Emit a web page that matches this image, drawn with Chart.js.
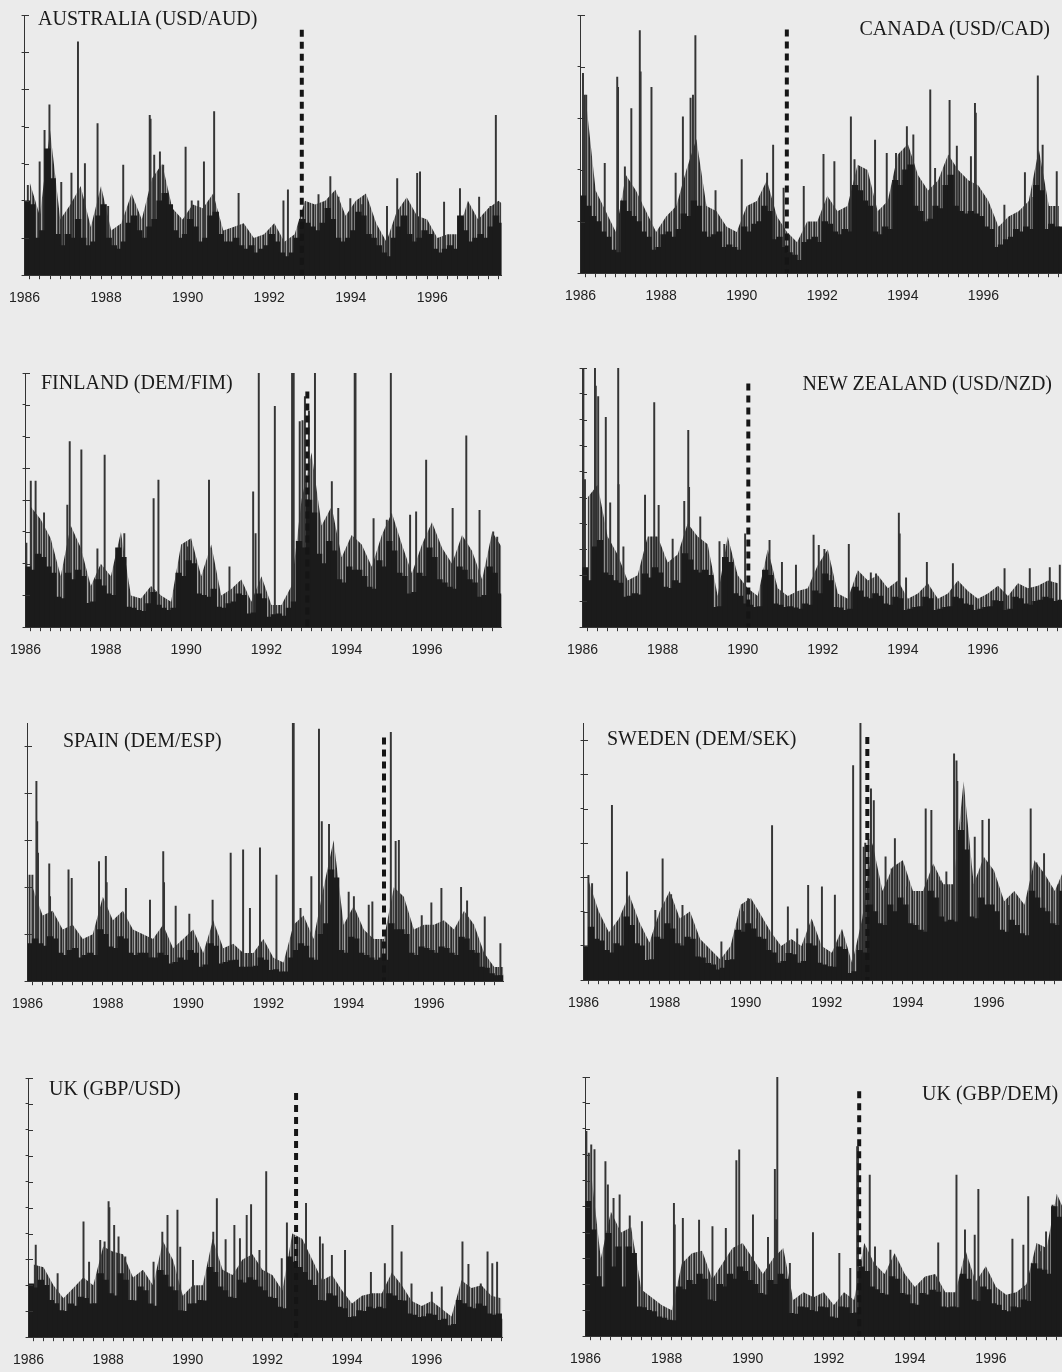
<!DOCTYPE html>
<html>
<head>
<meta charset="utf-8">
<script src="https://cdn.jsdelivr.net/npm/chart.js@4.4.1/dist/chart.umd.min.js"></script>
<style>
  html, body { margin: 0; padding: 0; background: #ebebeb; }
  body { width: 1062px; height: 1372px; position: relative; overflow: hidden; }
  canvas { position: absolute; }
  .ttl { position: absolute; font-family: "Liberation Serif", "Times New Roman", serif; font-size: 20px; line-height: 20px; color: #1a1a1a; white-space: nowrap; }
</style>
</head>
<body>
<script>
var yearLabels = [1986, 1988, 1990, 1992, 1994, 1996];

// body: level of the dense daily bars, one value per 1/8 year from 1986.0
// fringe: height reached by the crowd of thinner bars, one value per quarter
// spikes: [year, value] ; break: [year of regime change, height of dashed marker]
var ausBody = [
  2.0, 1.9, 1.0, 1.2, 3.4, 2.6, 1.1, 0.8,
  1.1, 1.0, 1.5, 1.0, 0.8, 0.9, 1.6, 1.9,
  1.0, 0.8, 0.7, 0.9, 1.4, 1.6, 1.2, 1.0,
  1.3, 1.5, 2.0, 2.2, 1.9, 1.2, 1.0, 1.1,
  1.5, 1.3, 0.9, 1.0, 1.6, 1.7, 1.1, 0.9,
  0.9, 1.0, 0.8, 0.7, 0.8, 0.6, 0.7, 0.8,
  1.1, 0.9, 0.6, 0.5, 0.6, 1.0, 1.5, 1.4,
  1.3, 1.2, 1.4, 1.8, 1.5, 1.0, 0.9, 1.0,
  1.2, 1.7, 1.6, 1.1, 1.0, 0.8, 0.6, 0.5,
  1.0, 1.3, 1.6, 1.1, 0.9, 1.0, 1.2, 1.1,
  0.7, 0.6, 0.7, 0.8, 0.7, 1.6, 1.2, 0.9,
  1.0, 1.1, 1.0, 1.3, 1.6, 1.4, 1.2, 1.1
];
var ausFringe = [2.5, 1.6, 3.9, 1.5, 1.9, 2.4, 1.3, 2.4, 1.2, 1.4, 2.2, 1.5, 2.6, 3.0, 1.8, 1.5, 1.9, 1.8, 2.2, 1.2, 1.3, 1.4, 1.0, 1.1,
  1.4, 0.9, 1.1, 2.0, 1.9, 2.0, 2.3, 1.6, 2.0, 2.2, 1.4, 0.9, 1.7, 2.1, 1.6, 1.5, 1.0, 1.1, 1.1, 2.0, 1.5, 1.8, 2.0, 1.8];
var ausSpikes = [[1986.08,2.42],[1986.37,3.05],[1986.49,3.9],[1986.61,4.58],[1986.9,2.5],[1987.15,2.75],[1987.31,6.28],[1987.48,3.0],[1987.79,4.08],[1988.05,1.85],[1988.42,2.96],[1989.07,4.3],[1989.09,4.2],[1989.18,3.23],[1989.32,3.32],[1989.4,2.96],[1989.95,3.45],[1990.1,2.0],[1990.26,2.0],[1990.4,3.05],[1990.65,4.4],[1991.25,2.2],[1992.35,2.0],[1992.46,2.3],[1993.21,2.17],[1993.5,2.65],[1993.7,2.1],[1993.99,2.06],[1994.28,1.9],[1994.89,1.85],[1995.14,2.6],[1995.63,2.74],[1995.7,2.78],[1996.29,1.97],[1996.68,2.33],[1997.15,2.1],[1997.43,1.85],[1997.56,4.3]];
var ausBreak = [1992.8, 6.6];

var canBody = [
  1.5, 1.3, 1.1, 1.0, 0.8, 0.7, 0.45, 0.4,
  1.4, 1.2, 1.1, 1.0, 0.8, 0.7, 0.45, 0.5,
  0.75, 0.8, 0.7, 0.85, 1.15, 1.1, 1.4, 1.3,
  0.8, 0.7, 0.75, 0.8, 0.5, 0.55, 0.5, 0.45,
  0.9, 0.8, 0.95, 1.0, 1.3, 1.2, 0.65, 0.7,
  0.5, 0.4, 0.35, 0.25, 0.6, 0.65, 0.7, 0.6,
  1.0, 0.95, 0.8, 0.75, 0.85, 0.8, 1.7, 1.6,
  1.4, 1.3, 0.8, 0.75, 0.9, 0.85, 1.8, 1.7,
  2.0, 2.1, 1.3, 1.2, 1.0, 1.05, 1.3, 1.25,
  1.7, 1.9, 1.3, 1.2, 1.15, 1.2, 1.15, 1.1,
  0.9, 0.85, 0.5, 0.55, 0.65, 0.7, 0.85, 0.8,
  0.9, 0.85, 1.7, 1.6, 0.85, 0.95, 0.9, 0.9
];
var canFringe = [3.4, 1.6, 1.2, 0.8, 1.9, 1.6, 1.2, 0.8, 1.1, 1.3, 2.0, 2.6, 1.3, 1.2, 0.9, 0.8, 1.3, 1.4, 1.8, 1.1, 0.8, 0.6, 1.0, 1.0,
  1.5, 1.2, 1.3, 2.1, 2.0, 1.2, 1.4, 2.3, 2.5, 1.9, 1.6, 1.8, 2.3, 2.0, 1.8, 1.7, 1.4, 0.9, 1.1, 1.2, 1.4, 2.4, 1.3, 1.3];
var canSpikes = [[1986.06,3.87],[1986.1,3.45],[1986.14,3.45],[1986.6,2.13],[1986.91,3.8],[1986.93,3.6],[1987.1,2.06],[1987.26,3.19],[1987.47,4.7],[1987.49,3.9],[1987.76,3.6],[1988.36,1.94],[1988.54,3.03],[1988.73,3.39],[1988.79,3.45],[1988.85,4.6],[1989.35,1.6],[1990.0,2.2],[1990.63,1.94],[1990.78,2.48],[1991.04,1.65],[1991.54,1.68],[1992.03,2.3],[1992.3,2.16],[1992.71,3.03],[1992.8,2.2],[1993.31,2.58],[1993.6,2.32],[1993.83,2.32],[1994.1,2.84],[1994.26,2.68],[1994.68,3.55],[1994.8,2.03],[1995.16,3.35],[1995.34,2.46],[1995.69,2.26],[1995.79,3.29],[1995.81,3.1],[1996.52,1.32],[1997.03,1.95],[1997.24,1.47],[1997.35,3.82],[1997.47,2.48],[1997.82,1.97]];
var canBreak = [1991.12, 4.72];

var finBody = [
  1.9, 1.8, 2.3, 2.2, 1.9, 1.7, 0.95, 0.9,
  1.7, 1.5, 1.8, 1.6, 0.75, 0.8, 1.5, 1.3,
  1.05, 1.0, 2.5, 2.2, 0.63, 0.6, 0.53, 0.5,
  0.74, 1.1, 0.7, 0.6, 0.53, 0.6, 1.7, 1.6,
  2.1, 2.0, 1.05, 1.0, 0.95, 1.2, 0.63, 0.6,
  0.74, 0.8, 1.05, 1.0, 0.42, 0.45, 1.05, 0.9,
  0.32, 0.4, 0.42, 0.35, 0.6, 0.8, 2.7, 2.5,
  4.0, 3.6, 2.3, 2.0, 2.7, 2.4, 1.5, 1.4,
  1.9, 1.8, 1.8, 1.6, 1.26, 1.2, 2.1, 1.9,
  2.7, 2.4, 1.7, 1.6, 1.05, 1.1, 1.7, 1.6,
  2.5, 2.2, 1.5, 1.4, 1.26, 1.2, 1.9, 1.8,
  1.5, 1.4, 0.95, 1.0, 1.9, 1.7, 1.05, 1.0
];
var finFringe = [3.8, 3.4, 2.8, 1.6, 3.2, 2.5, 1.3, 2.0, 1.6, 3.0, 1.0, 0.9, 1.3, 1.0, 0.8, 2.6, 2.8, 1.6, 2.6, 1.0, 1.2, 1.5, 0.8, 1.6,
  0.7, 0.7, 1.3, 4.0, 5.5, 3.2, 3.8, 2.2, 2.9, 2.6, 1.9, 2.9, 3.6, 2.6, 1.7, 2.6, 3.3, 2.5, 2.0, 2.9, 2.4, 1.5, 3.0, 2.5];
var finSpikes = [[1986.02,2.65],[1986.13,4.6],[1986.25,4.6],[1986.46,3.6],[1987.04,3.84],[1987.1,5.84],[1987.39,5.58],[1987.79,2.47],[1987.97,5.42],[1988.46,2.95],[1989.19,4.05],[1989.31,4.63],[1990.04,2.53],[1990.57,4.63],[1991.08,1.9],[1991.67,4.26],[1991.73,2.95],[1991.81,8.1],[1992.21,6.95],[1992.64,8.1],[1992.66,8.1],[1992.68,8.1],[1992.83,6.47],[1992.9,6.5],[1992.96,7.26],[1993.06,6.8],[1993.21,8.1],[1993.63,4.58],[1993.79,3.74],[1994.2,8.1],[1994.22,8.1],[1994.67,3.42],[1995.0,3.37],[1995.1,8.1],[1995.58,3.53],[1995.73,3.63],[1995.98,5.26],[1996.64,3.74],[1996.98,6.02],[1997.31,3.68],[1997.65,3.0],[1997.75,2.84]];
var finBreak = [1993.02, 7.42];

var nzBody = [
  2.3, 1.8, 3.1, 3.35, 2.1, 2.0, 1.8, 1.7,
  1.16, 1.2, 1.3, 1.25, 2.06, 1.9, 2.3, 2.1,
  1.55, 1.5, 1.8, 1.7, 2.84, 2.6, 2.2, 2.1,
  2.2, 2.0, 0.77, 0.8, 2.7, 2.5, 1.3, 1.2,
  0.9, 0.85, 0.77, 0.8, 2.2, 2.0, 0.9, 0.85,
  0.77, 0.8, 0.75, 0.7, 0.9, 0.85, 1.4, 1.3,
  2.06, 1.8, 0.77, 0.75, 0.65, 0.7, 1.55, 1.4,
  1.16, 1.1, 1.3, 1.2, 0.9, 0.85, 1.16, 1.1,
  0.65, 0.7, 0.77, 0.8, 1.16, 1.1, 0.65, 0.7,
  0.77, 0.8, 1.16, 1.1, 0.9, 0.85, 0.65, 0.7,
  0.77, 0.8, 1.03, 1.0, 0.65, 0.7, 1.16, 1.1,
  0.9, 0.85, 1.0, 1.05, 1.16, 1.1, 1.0, 1.05
];
var nzFringe = [5.0, 5.5, 3.5, 2.8, 1.8, 2.0, 3.5, 3.5, 2.5, 2.8, 4.0, 3.5, 3.2, 1.2, 3.5, 2.0, 1.5, 1.2, 3.0, 1.5, 1.2, 1.4, 1.5, 2.4,
  3.0, 1.3, 1.1, 2.2, 1.8, 2.0, 1.5, 1.8, 1.1, 1.3, 1.7, 1.1, 1.3, 1.8, 1.4, 1.1, 1.3, 1.6, 1.2, 1.7, 1.5, 1.6, 1.8, 1.7];
var nzSpikes = [[1986.0,10],[1986.02,10],[1986.06,5.7],[1986.27,5.2],[1986.31,10],[1986.33,9.3],[1986.39,8.9],[1986.58,8.1],[1986.69,4.8],[1986.89,10],[1986.9,5.5],[1987.02,3.1],[1987.56,5.1],[1987.79,8.67],[1987.9,4.7],[1988.25,3.4],[1988.54,4.86],[1988.64,7.6],[1988.66,5.4],[1988.94,4.26],[1989.42,3.3],[1989.54,3.2],[1990.06,3.6],[1990.67,3.35],[1990.98,2.5],[1991.33,2.4],[1991.77,3.55],[1991.9,3.16],[1992.04,3.0],[1992.2,2.0],[1992.65,3.2],[1993.2,2.1],[1993.33,2.06],[1993.9,4.4],[1993.92,3.6],[1994.08,1.9],[1994.6,2.5],[1995.25,2.45],[1996.54,2.26],[1997.17,2.26],[1997.67,2.3],[1997.92,2.4]];
var nzBreak = [1990.14, 9.4];

var espBody = [
  0.8, 0.9, 0.8, 0.75, 0.95, 0.9, 0.6, 0.55,
  0.66, 0.7, 0.5, 0.55, 0.6, 0.55, 1.1, 1.0,
  0.73, 0.7, 0.95, 0.9, 0.6, 0.55, 0.6, 0.6,
  0.5, 0.5, 0.6, 0.55, 0.37, 0.4, 0.5, 0.45,
  0.66, 0.6, 0.3, 0.35, 0.8, 0.75, 0.37, 0.4,
  0.44, 0.45, 0.3, 0.3, 0.3, 0.32, 0.5, 0.45,
  0.23, 0.25, 0.2, 0.2, 0.5, 0.66, 0.8, 0.75,
  0.5, 0.45, 1.0, 1.23, 2.37, 2.2, 0.66, 0.6,
  0.94, 0.9, 0.6, 0.55, 0.5, 0.45, 0.5, 0.45,
  1.23, 1.1, 1.1, 1.0, 0.6, 0.55, 0.73, 0.7,
  0.66, 0.6, 0.73, 0.7, 0.6, 0.55, 0.94, 0.9,
  0.66, 0.6, 0.3, 0.28, 0.16, 0.12, 0.12, 0.15
];
var espFringe = [2.0, 1.4, 1.5, 1.1, 1.2, 0.9, 1.0, 1.8, 1.3, 1.5, 1.1, 1.0, 0.9, 1.2, 0.7, 0.9, 1.1, 0.6, 1.3, 0.7, 0.8, 0.6, 0.6, 0.9,
  0.5, 0.4, 1.2, 1.4, 0.9, 2.0, 3.0, 1.2, 1.6, 1.1, 0.9, 0.9, 2.0, 1.8, 1.1, 1.2, 1.2, 1.3, 1.1, 1.5, 1.2, 0.6, 0.3, 0.3];
var espSpikes = [[1986.05,2.26],[1986.12,2.26],[1986.22,4.26],[1986.24,3.4],[1986.26,2.73],[1986.54,2.5],[1986.56,1.8],[1987.02,2.37],[1987.1,2.19],[1987.78,2.55],[1987.95,2.66],[1987.97,2.1],[1988.45,1.98],[1989.05,1.73],[1989.38,2.76],[1989.4,2.1],[1989.69,1.6],[1990.03,1.43],[1990.61,1.73],[1991.06,2.73],[1991.37,2.8],[1991.54,1.55],[1991.79,2.84],[1992.2,2.26],[1992.61,5.6],[1992.63,5.6],[1992.8,1.55],[1993.07,2.23],[1993.26,5.37],[1993.33,3.4],[1993.51,3.34],[1994.0,1.9],[1994.13,1.8],[1994.5,1.62],[1994.59,1.69],[1995.05,5.3],[1995.17,2.98],[1995.25,3.0],[1995.82,1.4],[1996.06,1.67],[1996.31,1.98],[1996.8,2.0],[1996.95,1.71],[1997.39,1.37],[1997.78,0.8]];
var espBreak = [1994.88, 5.19];

var sweBody = [
  1.0, 1.55, 1.2, 1.15, 0.87, 0.8, 1.07, 1.0,
  1.85, 1.6, 1.07, 1.0, 0.58, 0.6, 1.26, 1.2,
  1.65, 1.5, 1.07, 1.0, 1.26, 1.2, 0.68, 0.65,
  0.49, 0.45, 0.3, 0.35, 0.58, 0.6, 1.46, 1.4,
  1.65, 1.5, 1.26, 1.2, 0.87, 0.8, 0.5, 0.55,
  0.78, 0.75, 0.5, 0.55, 1.07, 1.0, 0.5, 0.45,
  0.4, 0.38, 0.97, 0.9, 0.2, 0.25, 0.87, 0.8,
  2.2, 2.0, 1.65, 1.6, 2.2, 2.0, 2.4, 2.2,
  1.65, 1.6, 1.46, 1.4, 2.6, 2.4, 1.85, 1.7,
  1.75, 1.7, 4.37, 3.8, 1.85, 1.8, 2.4, 2.2,
  2.2, 2.0, 1.46, 1.4, 1.75, 1.6, 1.36, 1.3,
  2.6, 2.4, 2.1, 2.0, 1.65, 1.6, 2.6, 2.4
];
var sweFringe = [2.9, 2.0, 1.4, 1.8, 2.5, 1.7, 1.1, 2.0, 2.6, 1.8, 2.0, 1.2, 0.9, 0.6, 1.0, 2.2, 2.4, 1.9, 1.4, 1.0, 1.2, 1.0, 1.8, 1.0,
  0.8, 1.5, 0.5, 1.8, 4.0, 2.6, 3.3, 3.5, 2.6, 2.6, 3.4, 2.8, 2.8, 5.8, 2.8, 3.6, 3.2, 2.3, 2.6, 2.2, 3.5, 3.1, 2.6, 3.3];
var sweSpikes = [[1986.0,2.0],[1986.12,3.06],[1986.21,2.82],[1986.7,5.1],[1987.07,3.16],[1987.77,2.04],[1987.95,3.54],[1988.16,2.5],[1988.44,2.18],[1989.4,1.12],[1989.94,2.0],[1990.06,2.38],[1990.28,1.8],[1990.65,4.51],[1991.04,2.14],[1991.27,1.5],[1991.54,2.77],[1991.88,2.72],[1992.2,2.48],[1992.65,6.26],[1992.83,7.5],[1992.91,3.88],[1992.95,4.0],[1993.03,4.1],[1993.09,5.58],[1993.16,5.24],[1993.45,3.6],[1993.6,3.25],[1993.68,4.13],[1993.98,2.72],[1994.44,5.0],[1994.58,4.95],[1994.79,2.9],[1994.95,3.16],[1995.14,6.6],[1995.2,6.4],[1995.22,5.8],[1995.34,4.6],[1995.65,4.17],[1995.84,4.66],[1996.0,4.7],[1996.49,2.18],[1997.03,5.0],[1997.17,3.42],[1997.36,3.69],[1997.56,2.67],[1997.73,2.8]];
var sweBreak = [1993.0, 7.09];

var ukuBody = [
  2.06, 1.9, 2.2, 2.0, 1.42, 1.3, 1.03, 1.0,
  1.29, 1.2, 1.55, 1.5, 1.29, 1.3, 2.45, 2.2,
  1.68, 1.6, 2.45, 2.2, 1.42, 1.4, 1.94, 1.8,
  1.29, 1.2, 2.58, 2.4, 1.94, 1.8, 1.03, 1.0,
  1.29, 1.3, 1.42, 1.4, 2.7, 2.5, 1.94, 1.8,
  1.55, 1.5, 2.2, 2.1, 2.3, 2.2, 1.94, 1.8,
  1.55, 1.5, 1.16, 1.1, 3.1, 2.9, 2.7, 2.5,
  2.2, 2.0, 1.42, 1.4, 1.68, 1.6, 1.16, 1.1,
  0.77, 0.8, 1.03, 1.0, 1.16, 1.1, 1.16, 1.1,
  1.68, 1.6, 1.42, 1.4, 0.9, 0.85, 0.77, 0.8,
  0.9, 0.85, 0.65, 0.7, 0.45, 0.5, 1.42, 1.3,
  1.16, 1.1, 1.29, 1.2, 0.9, 0.85, 0.9, 0.7
];
var ukuFringe = [2.8, 2.7, 2.0, 1.5, 1.9, 2.3, 2.0, 3.5, 3.3, 3.2, 2.3, 2.6, 2.0, 3.7, 3.0, 1.6, 2.0, 2.0, 3.8, 2.6, 2.4, 3.0, 3.2, 2.6,
  2.4, 1.8, 4.0, 3.8, 3.0, 2.2, 2.4, 1.8, 1.3, 1.6, 1.7, 1.7, 2.5, 2.0, 1.4, 1.2, 1.4, 1.1, 0.8, 2.2, 1.9, 2.0, 1.6, 1.5];
var ukuSpikes = [[1986.18,3.55],[1986.73,2.45],[1987.38,4.45],[1987.52,2.9],[1987.8,3.74],[1987.91,3.68],[1988.01,5.23],[1988.03,5.0],[1988.15,4.32],[1988.26,3.87],[1988.43,3.1],[1989.14,2.9],[1989.36,4.06],[1989.49,4.7],[1989.74,4.9],[1989.81,3.48],[1990.13,2.97],[1990.64,4.06],[1990.73,5.35],[1990.95,3.77],[1991.17,4.32],[1991.31,3.8],[1991.48,4.7],[1991.59,5.12],[1991.8,3.35],[1991.97,6.39],[1992.36,3.03],[1992.49,4.41],[1992.97,5.16],[1993.32,3.87],[1993.39,3.6],[1993.62,3.16],[1993.95,3.35],[1994.6,2.5],[1994.95,2.84],[1995.14,4.32],[1995.37,3.29],[1995.62,2.06],[1996.13,1.74],[1996.38,1.94],[1996.9,3.68],[1997.05,2.81],[1997.36,2.06],[1997.53,3.29],[1997.65,2.84],[1997.77,2.9]];
var ukuBreak = [1992.72, 9.42];

var ukdBody = [
  5.2, 4.1, 2.3, 1.9, 3.97, 2.68, 3.45, 1.9,
  3.45, 3.2, 1.13, 1.1, 1.0, 0.95, 0.75, 0.7,
  0.62, 0.6, 1.9, 1.8, 2.16, 2.0, 2.4, 2.2,
  1.4, 1.35, 2.0, 1.9, 2.4, 2.2, 2.68, 2.5,
  2.16, 2.0, 1.65, 1.6, 2.16, 2.0, 2.4, 2.2,
  0.88, 0.85, 1.13, 1.1, 1.0, 0.95, 1.13, 1.1,
  0.75, 0.7, 1.13, 1.1, 0.88, 0.9, 2.68, 2.5,
  1.9, 1.8, 1.65, 1.6, 2.3, 2.2, 1.65, 1.6,
  1.26, 1.2, 1.65, 1.6, 1.78, 1.7, 1.13, 1.1,
  1.13, 1.1, 2.4, 2.2, 1.4, 1.35, 1.9, 1.8,
  1.26, 1.2, 1.0, 0.95, 1.13, 1.1, 1.4, 1.35,
  2.8, 2.6, 2.55, 2.4, 5.0, 4.6, 3.7, 3.5
];
var ukdFringe = [6.5, 3.0, 4.8, 4.0, 4.2, 1.8, 1.5, 1.2, 1.0, 2.8, 3.2, 3.3, 2.2, 2.8, 3.4, 3.6, 3.0, 2.4, 3.0, 3.4, 1.4, 1.7, 1.5, 1.7,
  1.2, 1.7, 1.4, 3.6, 2.8, 2.4, 3.2, 2.4, 1.9, 2.3, 2.4, 1.7, 1.7, 3.3, 2.1, 2.7, 1.9, 1.6, 1.7, 2.0, 3.6, 3.4, 5.5, 4.6];
var ukdSpikes = [[1986.02,7.9],[1986.08,7.06],[1986.14,7.38],[1986.22,7.2],[1986.49,6.74],[1986.55,5.84],[1986.69,5.32],[1986.84,5.45],[1987.09,4.64],[1987.39,4.42],[1988.18,5.13],[1988.2,4.3],[1988.4,4.55],[1988.8,4.48],[1989.13,4.23],[1989.46,4.16],[1989.72,6.78],[1989.79,7.19],[1990.13,4.68],[1990.5,3.81],[1990.67,6.44],[1990.7,4.5],[1990.73,10],[1991.04,2.81],[1991.61,4.0],[1992.26,3.2],[1992.53,2.62],[1992.7,7.32],[1992.72,7.32],[1993.01,6.22],[1993.14,3.45],[1993.52,3.32],[1994.7,3.6],[1995.15,6.22],[1995.36,4.1],[1995.6,3.9],[1995.69,5.67],[1996.53,3.75],[1996.8,3.52],[1996.92,5.39],[1997.21,3.26],[1997.36,4.03],[1997.52,5.06],[1997.54,5.0],[1997.69,3.71]];
var ukdBreak = [1992.75, 9.45];

// panel layout on the page (plot area corners in px, px per year)
var panels = [
  { title: 'AUSTRALIA (USD/AUD)', body: ausBody, fringe: ausFringe, spikes: ausSpikes, brk: ausBreak, ymax: 7,   left: 25,  top: 15,   bottom: 275,  ppy: 40.8, xmax: 1997.7, tl: 38,  tt: 8 },
  { title: 'CANADA (USD/CAD)',    body: canBody, fringe: canFringe, spikes: canSpikes, brk: canBreak, ymax: 5,   left: 581, top: 15,   bottom: 273,  ppy: 40.3, xmax: 1998,   tr: 12,  tt: 18 },
  { title: 'FINLAND (DEM/FIM)',   body: finBody, fringe: finFringe, spikes: finSpikes, brk: finBreak, ymax: 8,   left: 26,  top: 373,  bottom: 627,  ppy: 40.2, xmax: 1997.85, tl: 41, tt: 372 },
  { title: 'NEW ZEALAND (USD/NZD)', body: nzBody, fringe: nzFringe, spikes: nzSpikes, brk: nzBreak,  ymax: 10,  left: 583, top: 368,  bottom: 627,  ppy: 40.0, xmax: 1998,   tr: 10,  tt: 373 },
  { title: 'SPAIN (DEM/ESP)',     body: espBody, fringe: espFringe, spikes: espSpikes, brk: espBreak, ymax: 5.5, left: 28,  top: 723,  bottom: 981,  ppy: 40.2, xmax: 1997.85, tl: 63, tt: 730 },
  { title: 'SWEDEN (DEM/SEK)',    body: sweBody, fringe: sweFringe, spikes: sweSpikes, brk: sweBreak, ymax: 7.5, left: 584, top: 723,  bottom: 980,  ppy: 40.5, xmax: 1998,   tl: 607, tt: 728 },
  { title: 'UK (GBP/USD)',        body: ukuBody, fringe: ukuFringe, spikes: ukuSpikes, brk: ukuBreak, ymax: 10,  left: 29,  top: 1078, bottom: 1337, ppy: 39.8, xmax: 1997.9, tl: 49,  tt: 1078 },
  { title: 'UK (GBP/DEM)',        body: ukdBody, fringe: ukdFringe, spikes: ukdSpikes, brk: ukdBreak, ymax: 10,  left: 586, top: 1077, bottom: 1336, ppy: 40.5, xmax: 1998,   tl: 922, tt: 1083 }
];

// fine vertical hatching: reads like a crowd of thin daily bars
function hatch() {
  var pc = document.createElement('canvas');
  pc.width = 5;
  pc.height = 1;
  var g = pc.getContext('2d');
  ['#262626', '#7a7a7a', '#3c3c3c', '#a6a6a6', '#4e4e4e'].forEach(function(c, i) {
    g.fillStyle = c;
    g.fillRect(i, 0, 1, 1);
  });
  return g.createPattern(pc, 'repeat');
}
var hatchFill = hatch();

// the y axis ticks cross the axis line: Chart.js draws the outer half, this adds the inner half
var innerTicks = {
  id: 'innerTicks',
  afterDraw: function(chart) {
    var ys = chart.scales.y, ctx = chart.ctx, x0 = Math.round(chart.chartArea.left);
    ctx.save();
    ctx.strokeStyle = '#333';
    ctx.lineWidth = 1;
    ys.ticks.forEach(function(t) {
      var py = Math.round(ys.getPixelForValue(t.value)) + 0.5;
      ctx.beginPath();
      ctx.moveTo(x0, py);
      ctx.lineTo(x0 + 4, py);
      ctx.stroke();
    });
    ctx.restore();
  }
};

function panelConfig(p) {
  var bodyData = p.body.map(function(v, i) { return { x: 1986 + (i + 0.5) / 8, y: v }; });
  var fringeData = p.fringe.map(function(v, i) { return { x: 1986 + (i + 0.5) / 4, y: v }; });
  var spikeData = p.spikes.map(function(s) { return { x: s[0], y: s[1] }; });
  var breakData = [{ x: p.brk[0], y: p.brk[1] }, { x: p.brk[0], y: 0 }];
  return {
    type: 'bar',
    data: {
      datasets: [
        { type: 'line', data: breakData, borderColor: '#151515', borderWidth: 4, borderDash: [7, 5],
          borderCapStyle: 'butt', pointRadius: 0, fill: false, order: 0 },
        { data: bodyData, backgroundColor: '#1b1b1b', borderWidth: 0, barThickness: p.ppy / 8 + 0.7,
          grouped: false, order: 1 },
        { data: spikeData, backgroundColor: '#353535', borderWidth: 0, barThickness: 1.3,
          grouped: false, order: 2 },
        { type: 'line', data: fringeData, backgroundColor: hatchFill, borderWidth: 0, pointRadius: 0,
          fill: 'origin', tension: 0, order: 3 }
      ]
    },
    options: {
      responsive: false,
      animation: false,
      devicePixelRatio: 1,
      layout: { padding: 0 },
      plugins: { legend: { display: false }, tooltip: { enabled: false } },
      scales: {
        x: {
          type: 'linear', min: 1986, max: p.xmax, offset: false,
          grid: { drawOnChartArea: false, tickLength: 4, color: '#333' },
          border: { color: '#333' },
          ticks: {
            stepSize: 0.25, autoSkip: false, includeBounds: false, maxRotation: 0, padding: 11,
            color: '#222', font: { family: '"Liberation Sans", Arial, sans-serif', size: 14 },
            callback: function(v) {
              var r = Math.round(v);
              return (Math.abs(v - r) < 1e-6 && yearLabels.indexOf(r) >= 0) ? String(r) : '';
            }
          }
        },
        y: {
          min: 0, max: p.ymax,
          grid: { drawOnChartArea: false, tickLength: 3, color: '#333' },
          border: { color: '#333' },
          ticks: { display: false, stepSize: 1, includeBounds: false }
        }
      }
    },
    plugins: [innerTicks]
  };
}

panels.forEach(function(p) {
  var plotW = (p.xmax - 1986) * p.ppy;
  var plotH = p.bottom - p.top;
  var cv = document.createElement('canvas');
  cv.width = Math.round(plotW + 60);
  cv.height = Math.round(plotH + 60);
  document.body.appendChild(cv);

  // first pass measures how much room the axes take, second pass sizes the canvas around the plot
  var probe = new Chart(cv, panelConfig(p));
  var a = probe.chartArea;
  var ml = a.left, mt = a.top, mr = cv.width - a.right, mb = cv.height - a.bottom;
  probe.destroy();

  cv.width = Math.round(ml + plotW + mr);
  cv.height = Math.round(mt + plotH + mb);
  cv.style.left = Math.round(p.left - ml) + 'px';
  cv.style.top = Math.round(p.top - mt) + 'px';
  new Chart(cv, panelConfig(p));

  var t = document.createElement('div');
  t.className = 'ttl';
  t.textContent = p.title;
  t.style.top = p.tt + 'px';
  if (p.tr !== undefined) t.style.right = p.tr + 'px';
  else t.style.left = p.tl + 'px';
  document.body.appendChild(t);
});
</script>
</body>
</html>
